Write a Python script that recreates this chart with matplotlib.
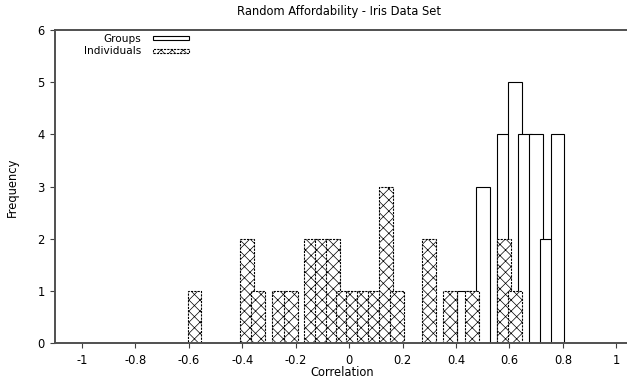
import matplotlib
matplotlib.use("Agg")
import matplotlib.pyplot as plt
from matplotlib.patches import Rectangle

plt.rcParams['font.family'] = ['DejaVu Sans']
plt.rcParams['hatch.linewidth'] = 0.5

# Box centres (correlation) and counts
group_centers = [0.43, 0.50, 0.578, 0.62, 0.658, 0.70, 0.739, 0.78]
group_counts = [1, 3, 4, 5, 4, 4, 2, 4]

indiv_centers = [-0.579, -0.382, -0.341, -0.263, -0.219,
                 -0.144, -0.103, -0.059, -0.022, 0.016, 0.055, 0.097,
                 0.138, 0.178, 0.298, 0.379, 0.46, 0.578, 0.621]
indiv_counts = [1, 2, 1, 1, 1,
                2, 2, 2, 1, 1, 1, 1,
                3, 1, 2, 1, 1, 2, 1]

box_width = 0.052
xticks = [-1, -0.8, -0.6, -0.4, -0.2, 0, 0.2, 0.4, 0.6, 0.8, 1]
xtick_labels = ["-1", "-0.8", "-0.6", "-0.4", "-0.2", "0", "0.2", "0.4", "0.6", "0.8", "1"]
yticks = [0, 1, 2, 3, 4, 5, 6]

W, H = 627, 381
FS = 8.3
KEY_FS = 7.6
fig = plt.figure(figsize=(W / 100, H / 100), dpi=100)


def fx(px):
    return px / W


def fy(py):
    return 1 - py / H


# axes box in pixels: left 55.3, right 643 (beyond the canvas), top 30, bottom 343
ax = fig.add_axes([fx(55.3), fy(343), (643 - 55.3) / W, (343 - 30) / H])
ax.set_xlim(-1.1, 1.1)
ax.set_ylim(0, 6)

ax.bar(group_centers, group_counts, width=box_width, align='center',
       facecolor='white', edgecolor='black', linewidth=0.8, zorder=2)
ax.bar(indiv_centers, indiv_counts, width=box_width, align='center',
       facecolor='white', edgecolor='black', linewidth=0.8, linestyle=(0, (2, 1)),
       hatch='xxx', zorder=3)

ax.set_xticks(xticks)
ax.set_xticklabels(xtick_labels)
ax.set_yticks(yticks)
ax.tick_params(direction='out', length=3.6, width=0.8, color='#404040',
               labelsize=FS, pad=4.0)
for side in ['top', 'left', 'bottom', 'right']:
    ax.spines[side].set_color('#505050')
    ax.spines[side].set_linewidth(1.4)
    ax.spines[side].set_zorder(5)

fig.text(fx(339), fy(11), "Random Affordability - Iris Data Set",
         ha='center', va='center', fontsize=FS)
fig.text(fx(342), fy(373), "Correlation", ha='center', va='center', fontsize=FS)
fig.text(fx(12), fy(187), "Frequency", ha='center', va='center',
         rotation=90, fontsize=FS)

# key
fig.text(fx(141), fy(38.5), "Groups", ha='right', va='center', fontsize=KEY_FS)
fig.text(fx(141), fy(51), "Individuals", ha='right', va='center', fontsize=KEY_FS)
fig.patches.append(Rectangle((fx(153.3), fy(40.3)), (189.3 - 153.3) / W, 4 / H,
                             transform=fig.transFigure, facecolor='white',
                             edgecolor='black', linewidth=0.8))
fig.patches.append(Rectangle((fx(153.3), fy(53.2)), (189.3 - 153.3) / W, 4.5 / H,
                             transform=fig.transFigure, facecolor='white',
                             edgecolor='black', linewidth=0.8, linestyle=(0, (2, 1)),
                             hatch='xxx'))

fig.savefig("out.png", dpi=100)
